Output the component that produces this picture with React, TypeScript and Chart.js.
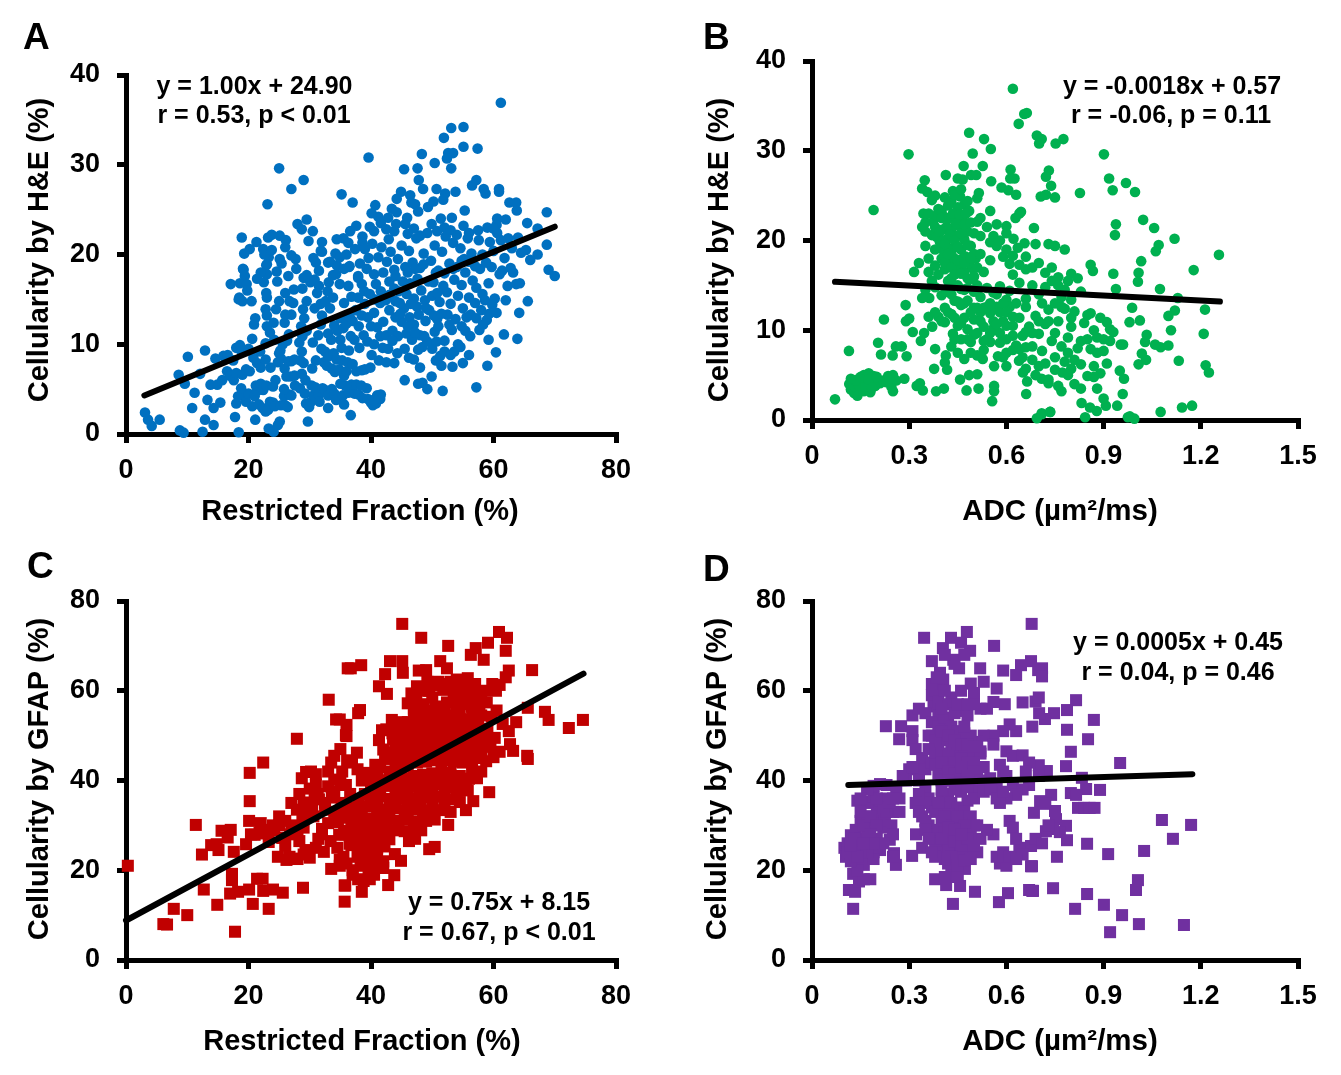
import React, { useEffect, useRef } from "react";
import { Chart, registerables } from "chart.js";

Chart.register(...registerables);

type P = [number, number];

const fitA: P[] = [[3, 4.3], [70, 23.1]];
const fitB: P[] = [[0.071, 15.4], [1.259, 13.2]];
const fitC: P[] = [[0, 8.8], [74.7, 63.8]];
const fitD: P[] = [[0.112, 39], [1.174, 41.4]];

const pointsA: P[] = [
[61.2,36.9],[53.1,34.1],[55.1,34.2],[51.9,33],[55.1,32],[57.4,31.8],[53.4,31.3],[52.6,31.3],[52.4,30.7],[48.3,31.2],[39.6,30.8],[50.4,30.2],[47.6,29.6],[45.4,29.5],[53.1,29.6],[47.8,28.3],[48.5,27.3],[57.2,28.3],[56.5,27.7],[58.4,27.3],[58.7,26.8],[60.9,27.3],[60.9,27],[50.7,27.3],[52.1,26.8],[53.8,27],[44.9,27],[35.2,26.7],[37,25.8],[51.8,26.1],[50.2,25.9],[49.3,25.3],[44.2,26.2],[46.4,26.6],[46.6,25.8],[47.2,25.6],[47.7,24.8],[62.6,25.8],[63.7,25.8],[63.8,24.9],[68.7,24.7],[65.5,23.5],[67.2,22.9],[68.7,21.1],[67.2,20],[69,18.3],[70,17.6],[55.3,24.9],[60.6,24],[62,23.9],[60.5,23.3],[55.1,23.2],[53.2,24.1],[51.4,24],[40.7,25.5],[40.1,24.6],[41.2,24.2],[41.6,23.5],[42.8,24.1],[43.4,25.1],[44.2,24.7],[44.1,23.4],[45.9,24.1],[45.6,23.4],[37.6,23.2],[36.6,22.6],[35.5,21.8],[34.4,21.7],[36.3,21.3],[38.6,22],[38.6,21.3],[37.4,20.6],[39,20.6],[32,21.4],[32,20.3],[34.2,20.1],[33.3,19.2],[34.4,18.8],[36.4,18.6],[33.8,17.7],[37.9,17.4],
[25,29.6],[29,28.3],[27,27.3],[23.1,25.6],[29.5,23.9],[28,23.4],[28.7,22.8],[30.5,22.6],[29.8,21.5],[18.9,21.9],[23.2,21.9],[23.8,22.2],[25.1,22.1],[26.1,21.6],[21.3,21.4],[22.4,20.6],[20.2,20.6],[19.3,20.1],[26,20.8],[23.3,19.7],[25.1,19.5],[27,19.9],[27.7,19.5],[31,19.1],[31.8,20.4],[33,19.1],[25.4,19],[22.9,18.8],[19.2,18.3],
[3.1,2.4],[3.6,1.6],[4.2,0.9],[5.5,1.6],[8.8,0.4],[9.4,0.15],[12.5,0.25],[18.4,0.2],[23.3,0.6],[24.1,0.25],[25.1,1.4],[24.8,1],[29.7,1.4],[36.7,2.1],[21.1,1.6],[17.8,1.9],[12.9,1.6],[14.3,1],[10.8,2.9],[11.2,4.6],[13.3,3.8],[14.3,2.9],[15.4,3.5],[8.6,6.6],[9.6,5.6],[10.1,8.6],[12.9,9.3],[14.6,8.4],[15.9,8.7],[12.1,6.7],[13.8,5.5],[14.9,5.5],[15.7,6],
[19.1,18.4],[19.4,17.6],[17.1,16.7],[18.6,16.8],[19.7,16.7],[22.5,16.9],[23,18.9],[23,17.8],[24.7,17],[29,17.4],[29.5,17.7],[30.1,16.9],[31.5,16.5],[32.9,15.9],[31.2,15.7],[34.3,17.8],[34.9,16.7],[36.5,18.7],[37.9,17.6],[39.3,18.4],[40.5,17.8],[36.3,16.5],[38.5,16.7],[40.8,16.7],[18.5,15.2],[19,14.8],[20.5,14.8],[22.9,15.7],[23,15.2],[26.7,14.8],[27.3,14.6],[29.5,14.8],[22.8,13.9],[23,13.2],[28.9,13.9],[29.1,12.9],[21.1,12.9],[20.9,12.2],[24.1,12.4],[25.9,12.4],[23.5,11.3],[28.6,12],[29.5,11.5],[20.6,10.6],[26.6,11.1],[22.8,10.1],[18,9.6],[18.6,9.9],[18.9,9.2],
[18,3.4],[18.3,4.2],[18.9,4.4],[19.6,3.6],[20,4.5],[20.6,3.1],[21,4.2],[21.4,4.8],[21.7,3.3],[22.3,2.9],[22.8,2.5],[23.2,2.7],[23.5,3.6],[24,3.5],[24.3,3.1],[25.3,3.2],[25.8,4.2],[26,3.2],[26.4,3],[26.7,4.4],[27,4.3],[25.8,5],[28.4,5.1],[29.2,4.5],[29.4,3.4],[29.9,3],[30.2,3.6],[30.6,4.3],[30.3,5.4],[29.3,6],[30.9,5.2],[31.5,4.4],[31.6,3.6],[32.1,5.1],[32.5,4.9],[33,4.3],[33,2.9],[33.6,5],[34,4.5],[34.3,3.8],[35.4,4.3],[35.6,3.3],[35.8,5.4],[36.3,4.6],[37.3,4.5],[38,4.4],[38.6,4],[39.3,5.1],[39.5,3.9],[40,3.5],[40.3,3.2],[40.8,3.4],[41,4.3],[41.5,3.9],[41.6,4.4],[40.5,3.8],
[16.5,7],[17,6.5],[17.6,6],[18,6.8],[18.8,5.1],[19,6.6],[19.6,7.2],[20.2,7],[20.8,8.5],[21.4,7.9],[22,7.4],[21.2,5.4],[22,5.6],[22.4,4.9],[22.9,5.4],[23.6,7.4],[24.8,8],[25,9],[25.3,8.4],[25.6,10],[25.9,7.3],[26.2,6.4],[26.8,6.4],[26.5,8.1],[27,8.1],[27.5,8.3],[28.5,8.2],[28.7,9.2],[29,7.9],[28.3,10.2],[28.8,10.9],[26.3,10.4],[25.2,9.3],[24.2,10.5],
[31.9,9.5],[32.5,9.2],[32.3,8],[32.8,7.6],[33,8.6],[33.6,7.3],[33.9,9],[34.1,6.9],[34.4,8.3],[34.8,7.2],[35,10.5],[35.2,9.6],[35.3,8.2],[35.6,6.5],[36,7],[36.2,8],[36.4,9.3],[36.7,10.9],[37,7.8],[37.3,10.5],[37.6,7],[38.1,9.6],[38.5,7.1],[38.8,11],[39,7.2],[39.4,10.3],[39.9,7.4],[40.1,8.8],[40.5,10],[41.3,8.2],[41.9,9.6],[42.5,8],[43.8,7.9],[41.5,10.9],[33,11.2],[33.5,10.5],[34,12.1],[34.5,11.5],[35,12.9],[35.5,11.8],[36,12.3],[36.5,13.1],[37,12.6],[37.5,13.8],[38,12],[38.5,13.2],[39,14.5],[39.5,13],[40,12],[40.5,13.5],[41,11.9],[41.5,14.6],[42,12.5],[42.5,11],[43,13.8],[43.5,11.5],[44,14.8],[44.4,10.9],[45,12.5],[45.4,14],[45.8,11.2],[46.3,13],[46.7,10.5],[47,12.2],[47.5,14.2],[48,11],[48.4,9.7],[48.9,12.6],[49.2,10.3],[49.5,13.8],[50,9.5],[50.4,11.4],[50.8,12.8],[51.3,8.7],[52,10.4],[52.5,13.3],[53.2,11.6],[53.6,9.2],[54.2,10],[54.6,9.7],[55,14],[55.6,13],[56.3,13.3],[57.2,12.9],[57.7,11.6],[58.3,12.2],[58.9,12.7],[59.3,13.4],[59.2,10.5],[61.7,11.1],[63.9,10.6],[60.4,9.1],[59,7.6],[51.5,7.6],[53.3,7.5],[49.9,6.4],[48.4,5.7],[47.7,5.6],[49.2,5],[45.5,6],[51.7,4.8],[57.2,5.2],
[43,15.5],[43.8,16.2],[44.5,15.9],[45.2,17],[45.8,15.6],[46.4,16.8],[47,15.1],[47.6,17.3],[48.2,16],[48.8,14.9],[49.4,17],[50,15.4],[50.6,18],[51.2,14.7],[51.8,16.5],[52.4,15.8],[53,14.5],[53.6,17.2],[54.2,15.4],[54.8,16.6],[55.4,18],[56,15.2],[56.6,17.1],[57.2,16.3],[57.8,18.4],[58.2,15.6],[58.6,14.9],[59.2,16.8],[59.7,18.6],[60.2,15.1],[61,17.8],[61.4,18.2],[62.3,16.5],[63.7,16.7],[63.2,18],[65.6,14.8],[64.3,16.8],[62.8,18.5],
[42,18],[42.6,19.2],[43.2,20.3],[43.8,18.3],[44.4,19.5],[45,21],[45.6,18.6],[46.2,20.4],[46.8,19.1],[47.4,21.8],[48,18.5],[48.6,20.1],[49.2,22.4],[49.8,19.3],[50.4,21],[51,18.2],[51.6,20.3],[52.2,22],[52.8,19],[53.4,21.3],[54,18.6],[54.6,20.7],[55.2,19.5],[55.8,21.8],[56.4,20.1],[57,18.7],[57.6,21.6],[58.2,20],[58.8,19.1],[59.4,21.4],[60,20.4],[60.6,22.4],[61.2,21.6],[61.8,19.6],[62.4,21.8],[63,20.7],[64,21.9],[64.5,20.2],[65.3,20.5],[66,19.4],[46,22.3],[47,22.9],[48,22.1],[49.9,23.4],[50.8,22.6],[52,23],[53,22.7],[54,22.2],[56,22.4],[57.5,22.7],[59,23],[60,22.9]
];

const moreA: P[] = [
[18.4,15],[19.8,16],[21.4,17.3],[22,18],[22.6,20],[23.8,20.5],[24.6,18.1],[26.5,17.6],[27.8,18.4],[28.8,16.2],[30.8,17.2],[31.5,18.2],[30.6,19.6],[33.1,16.9],[34.9,19.7],[35.6,18.4],[36,20],[38.2,19],[39.6,19.6],[40.2,21.2],[41.2,19.7],[41.7,20.8],[42.9,21.7],[43.8,22.6],[40.5,22.6],[39.8,23.1],[42.5,22.8],
[30.8,14],[31.8,14.5],[32.6,14.8],[33.3,14],[33.8,15.2],[35.6,14.6],[36.8,15.3],[37.9,15.2],[38.9,15.9],[39.8,15.6],[40.6,15],[41.6,15.9],[42.4,14.9],[43,17],[44,17.6],[44.7,14.6],[46,18],[47.2,18.4],[48.6,18.9],[50.2,16.9],[50.8,15.7],[52,17.9],[53.4,18.4],[54.8,19.3],[56,19.2],[44,13],[44.8,13.4],[46.5,14.5],[47.8,13.3],[49,14],[50.3,13.2],[51.5,13.4],[52.8,12.2],[53.8,12.8],[54.8,12],[46,12],[47.2,11.3],[48.7,10.9],[50.7,10.3],[51,12],[55.4,11.5],[56.2,10.9],[57,14.6],[58,13.8],[59.8,14.4],[60.5,13.5],[42.8,9.5],[43.5,10.4],[44.3,9],[45.5,9.5],[46.2,8.5],[47,8.3],[47.7,9.4],[30.4,7.3],[31,8.2],[30.5,10.2],[31.4,11],[31.8,12.2],[32,13.2],[23,12],[24.5,13.9],[25,14.8],[26,15.7],[27.4,16.1],[27,13.3],[26,13.3],[24.4,6],[24,5.3],[27.5,6.5],[28.7,6.7],[27.6,5.4],[22.8,8.3],[21.9,9.2],[20,9.5],[17.5,8.2],[16.6,8.8],[35,5.6],[36.8,5.5],[37.6,5.5],[38.4,5.4],[62,14.9],[64.2,13.5],[48,7.4],[50.6,8.2],[52,9.2],[53,8.8],[55,7.9],[56,8.8]
];

const pointsB: P[] = [
[0.62,36.9],[0.663,34.2],[0.655,34.1],[0.638,33],[0.485,32],[0.531,31.3],[0.552,30.2],[0.496,29.7],[0.298,29.6],[0.694,31.7],[0.709,31.3],[0.701,30.8],[0.752,30.8],[0.776,31.3],[0.468,28.3],[0.527,28.3],[0.613,27.9],[0.731,27.8],[0.722,27.1],[0.738,26.1],[0.706,24.9],[0.722,25.1],[0.75,24.8],[0.413,27.3],[0.491,27.3],[0.507,27.3],[0.465,26.8],[0.45,26.9],[0.348,26.7],[0.34,25.8],[0.356,25.4],[0.435,25.5],[0.553,26.6],[0.585,25.9],[0.612,26.9],[0.606,25.6],[0.63,25.1],[0.625,26.9],[0.51,24.7],[0.515,25.3],[0.55,23.3],[0.4,23.3],[0.19,23.4],[0.344,23],[0.374,22.1],[0.384,22.8],[0.47,24],[0.48,24.4],[0.457,24.9],[0.43,24.4],[0.628,22.5],[0.645,23.2],[0.64,23],[0.57,21.8],[0.6,20.8],[0.622,20.2],[0.635,19.2],[0.656,19.7],[0.685,21.4],[0.69,19.6],[0.73,19.6],[0.75,19.4],[0.78,19],
[0.901,29.6],[0.917,26.9],[0.969,26.4],[0.928,25.6],[0.997,25.4],[0.827,25.3],[1.022,22.3],[0.938,21.8],[0.935,20.6],[1.056,21.4],[1.119,20.2],[1.07,19.5],[1.061,18.8],[1.256,18.4],[1.016,17.7],[1.178,16.7],[0.86,17.3],[0.867,16.6],[0.93,16.3],[1.008,16.4],[1.006,15.4],[0.938,14.6],[1.074,14.6],[1.129,13.6],[1.213,12.3],[0.988,12.5],[1.12,12.2],[1.1,11.6],[1.012,11.1],[1.108,10],[1.209,9.6],[1.033,9.5],[1.028,8.7],[1.059,8.4],[1.076,8.1],[1.1,8.3],[0.953,8.4],[0.96,8.4],[1.018,7.4],[1.031,6.7],[1.008,6.2],[1.132,6.6],[1.215,6.1],[1.225,5.3],[0.963,4.6],[0.959,2.9],[0.942,1.6],[0.907,1.6],[1.142,1.4],[1.173,1.6],[1.076,0.9],[0.981,0.4],[0.995,0.15],[0.975,0.3],[0.843,0.3],[0.832,1.9],[0.858,1.4],[0.879,1],[0.735,0.9],[0.709,0.65],
[0.071,2.3],[0.114,7.7],[0.204,8.6],[0.213,7.3],[0.222,11.2],[0.249,7.2],[0.259,8.2],[0.277,8.2],[0.292,7.1],[0.289,12.8],[0.315,16.5],[0.29,11],[0.3,11.3],[0.311,9.8],[0.336,8.8],[0.346,9.7],[0.362,13.6],[0.371,10.4],[0.38,7.9],[0.413,7.2],[0.41,6.4],[0.417,5.6],[0.377,5.7],[0.333,4.1],[0.323,3.8],[0.342,3.3],[0.383,3.2],[0.407,3.5],[0.457,4.5],[0.477,3.3],[0.485,5],[0.51,5.1],[0.514,3.5],[0.562,3.8],[0.562,3.2],[0.556,2.1],[0.562,6],[0.574,7.1],[0.527,6.8],[0.639,6.6],[0.651,5.3],[0.664,4.3],[0.661,2.9],[0.709,4.6],[0.73,4.5],[0.773,5.3],[0.694,0.2],[0.709,0.75],[0.735,0.9],
[0.115,4],[0.12,3.4],[0.125,4.1],[0.13,3],[0.135,3.6],[0.14,4.5],[0.14,2.7],[0.148,3.3],[0.15,4.8],[0.155,4],[0.16,3.2],[0.16,5],[0.167,4.3],[0.17,3.5],[0.175,5.2],[0.18,4.1],[0.18,3.1],[0.19,4.9],[0.195,3.8],[0.21,4.1],[0.22,4.4],[0.235,4.9],[0.245,3.7],[0.25,3.2],[0.26,4.4],[0.285,4.6],[0.25,5],
[0.35,22],[0.37,20.6],[0.38,21.5],[0.39,23.5],[0.395,19.8],[0.4,21.2],[0.405,18.9],[0.41,22.6],[0.415,20.1],[0.42,23.9],[0.425,17.8],[0.43,21.3],[0.435,19.2],[0.44,22.8],[0.44,18],[0.445,20.5],[0.45,23.7],[0.45,17],[0.455,21.6],[0.46,19],[0.465,22.5],[0.47,20.1],[0.47,16.5],[0.475,18.2],[0.48,21],[0.485,23.3],[0.49,19.4],[0.495,16.9],[0.5,20.8],[0.505,18],[0.51,22.1],[0.35,19.4],[0.33,17.5],[0.36,18],[0.38,17.2],[0.39,16.2],[0.41,16.8],[0.43,15.8],[0.45,15],[0.47,14.5],[0.49,15.7],[0.51,15],[0.53,16.5],[0.55,17.8],[0.57,19.4],[0.59,18.2],[0.61,17.4],[0.55,19.8],[0.52,20.5],[0.6,21.6],[0.38,14.8],[0.4,13.9],[0.415,14.3],[0.44,13.3],[0.46,12.8],[0.48,13.3],[0.5,12.5],[0.52,13.7],[0.54,14.7],[0.56,14.2],[0.58,14.9],[0.6,13.4],[0.62,16.2],[0.64,15.3],[0.66,16.8],[0.68,15],[0.7,14],[0.72,16.4],[0.74,15.5],[0.76,15.9],[0.78,14.5],[0.8,16.3],[0.8,13.4],[0.83,14.3],
[0.39,11.5],[0.41,10.9],[0.43,11.8],[0.435,9.6],[0.45,10.5],[0.46,9],[0.47,11.4],[0.48,10.1],[0.49,8.7],[0.5,11.2],[0.51,9.7],[0.52,12],[0.53,10.4],[0.54,9],[0.55,11.9],[0.56,10.2],[0.57,12.6],[0.58,9.7],[0.59,11],[0.6,9],[0.61,12.6],[0.62,10.5],[0.63,8.3],[0.64,11.4],[0.65,9.4],[0.66,12.6],[0.67,10.4],[0.68,8.2],[0.69,11.6],[0.7,9.6],[0.71,7.7],[0.72,10.7],[0.73,12.3],[0.74,8.8],[0.75,7],[0.76,11],[0.77,12.6],[0.78,6.5],[0.79,9.2],[0.8,10.4],[0.81,12.1],[0.82,8],[0.83,6.2],[0.84,10.8],[0.85,11.7],[0.86,7.9],[0.87,6],[0.88,9.2],[0.89,5.2],[0.9,7.7],[0.91,6.3],[0.92,8.8],[0.85,4.9],[0.83,3.5],[0.81,4],[0.79,5],[0.77,3.2],[0.75,5.6],[0.73,4.1],[0.92,10.1],[0.86,11.9],[0.8,11.4],[0.89,11.4],[0.91,10.9],[0.78,12.4],[0.75,13],[0.71,13],[0.66,13.5],
[0.43,8.2],[0.44,9],[0.45,7.5],[0.47,6.8],[0.49,7.5],[0.51,7.2],[0.53,7.8],[0.55,8.7],[0.58,8.6],[0.6,7.5],[0.62,7.8],[0.64,7.9],[0.66,8.1],[0.68,6.7],[0.7,6],[0.72,6.3],[0.66,5.7],[0.69,5],[0.98,10.9]
];

const moreB: P[] = [
[0.38,19],[0.385,20.4],[0.395,21],[0.4,22.5],[0.405,20],[0.41,19.6],[0.415,21.5],[0.42,22.4],[0.425,20.7],[0.43,18.5],[0.435,23],[0.44,20],[0.445,21.9],[0.45,19.3],[0.455,22.9],[0.46,20.8],[0.465,18],[0.47,21.8],[0.475,23],[0.48,19.5],[0.485,17.5],[0.49,22],[0.5,18.5],[0.4,18],[0.41,17.5],[0.42,18.5],[0.43,17],[0.44,16.2],[0.45,17.8],[0.46,16.3],[0.47,17.5],[0.48,15.8],[0.49,18],[0.5,16],[0.51,17],[0.52,18.5],[0.42,15.5],[0.43,14],[0.44,15],[0.45,13.2],[0.46,14.6],[0.47,13],[0.48,14.7],[0.49,12],[0.5,14.3],[0.51,12.5],[0.52,11],[0.53,12.5],[0.54,12.6],[0.55,13],[0.56,11],[0.57,14],[0.58,12],[0.59,13],[0.6,12],[0.61,14.4],[0.62,11.5],[0.63,13],[0.42,12],[0.44,11.4],[0.41,12.5],[0.4,11],[0.38,12],[0.36,11.5],[0.37,15.5],[0.36,16.5],[0.35,14.5],[0.34,13.6],[0.35,21],[0.36,23],[0.37,24.5],[0.34,21.5],[0.38,25],[0.41,24.8],[0.44,25.1],[0.46,25.7],[0.52,22.5],[0.54,21.5],[0.56,20.5],[0.58,20],[0.6,19],[0.62,18.3],[0.64,17.3],[0.66,18.2],[0.68,17],[0.7,17.5],[0.72,14.8],[0.74,17],[0.76,15],[0.77,13.7],[0.79,15.5],[0.82,15.8],[0.73,11],[0.75,9.7],[0.77,8.2],[0.79,7.5],[0.81,6.7],[0.83,8.8],[0.85,9],[0.87,10],[0.88,7.5],[0.9,9],[0.93,9.8],[0.68,9.7],[0.7,11],[0.66,9.8],[0.65,7],[0.6,6],[0.59,7],[0.5,9.5],[0.48,9],[0.46,10.8],[0.53,8.8],[0.55,9.7],[0.57,10.7],[0.6,10.5],[0.62,9.4],[0.95,5.5],[0.87,4.8],[0.8,5.7],[0.88,3.5],[0.9,2.4],[0.76,3.8],[0.13,3.8],[0.145,3.9],[0.155,4.5],[0.165,3.7],[0.175,4.5],[0.185,3.6],[0.135,4.4],[0.12,4.6],[0.2,4.8],[0.23,4.2],[0.24,4.6]
];

const pointsC: P[] = [
[0.3,21],[11.4,30.1],[12.4,23.5],[13.9,25.6],[14.8,25.8],[15.1,24.5],[15.6,28.8],[17.1,29],[16.6,27.3],[17.6,24.1],[12.7,15.7],[7.8,11.4],[10,10],[6.1,8],[6.7,7.9],[14.9,12.3],[17.8,6.3],[20.7,12.5],[23.3,11.4],[17,14.8],[18.3,15.2],[20.1,15.7],[17.3,19.2],[17.3,17.8],[21.4,18.1],[22.3,18.1],[22.4,15.4],[24,15.7],[25.6,15],[28.9,16.1],[20.2,41.7],[22.4,44],[20.2,35.4],[20.1,31],[27.9,49.3],[33.1,58],[34.3,53.6],[34.9,53.6],[35.9,50.1],[36.2,65],[35.7,13],[35.7,16.6],[33.5,20.3],[34.9,22.3],[34.9,21],
[19.6,25.8],[20.4,28],[21,27.9],[21.8,28.4],[22.6,28.2],[23.3,26.3],[24.2,28.9],[24.8,23],[25.5,27.2],[26,25.5],[26.2,22.3],[26.7,23],[26.8,28],[27.3,22.6],[27.6,30],[27.9,33.5],[28.3,26.5],[28.8,31],[29,35.1],[29.3,24.5],[30,38.2],[30.2,42],[30.4,34.1],[30.6,32],[31,41.4],[31.3,37],[31.4,27],[32,29.2],[32.3,24.1],[32.5,33.5],[33,30.5],[33,42],[33,38.7],[33.6,36.2],[34,40.2],[34.5,25],[34.6,30.7],[34.8,27.9],[35,33],[35.2,35],[35.3,42],[35.6,28.8],[35.9,39],[36.1,44.5],[36.3,31.7],[36.5,25.9],[36.6,37],
[45.1,74.9],[48.2,71.8],[52.6,70],[60.9,73.1],[62.2,71.8],[62,68.9],[59.1,70.7],[57.1,69.5],[56.3,68],[58.4,66.9],[66.3,64.6],[62.5,64.5],[62,63],[59.8,61.5],[36.7,65],[38.4,65.7],[43.1,66.6],[45.1,66.6],[42.3,63.7],[45.2,64],[41.3,61],[42.6,59.3],[51.3,66.6],[49,64.6],[47.8,64.5],[52.4,65],[55.8,62.8],[74.6,53.5],[72.3,51.7],[69,53.5],[68.4,55.3],[65.6,56.2],[63.7,53],[62.5,51],[62.7,48.1],[63.2,46.6],[65.5,45.5],[65.6,44.8],[59.3,37.4],[58.8,44.3],[56.7,35.4],[54.5,35.2],[55.5,33.4],[52.6,30.1],[47.2,27],[50.4,25.2],[49.5,24.7],[43.9,23.6],[44.9,22.1],[43.8,18.9],[42.8,16.7],[38.5,15.2],[37.9,18],[39.8,18],[35.8,16.6],[38.2,55.7],[37.9,55],[36,52.4],[36,49.9],[41.3,49],[41.8,51.2],[37.7,46.2],[42.3,44.8],[40.7,43.5],[39.3,41.7],
[61,61.3],[60.4,60],[58.5,60],[57.5,59.4],[56.2,58],[55,60.8],[53.6,60],[53,62],[51.8,60.2],[50.5,61.2],[49.2,62],[48.4,60],[47.4,59],[46.6,59.4],[46,57.2],[47.2,56.5],[48.6,57],[50,58.5],[51,55.5],[52.4,57.4],[53.9,56],[54.9,58.4],[56.5,55],[57.7,56.6],[58.9,57.4],[59.7,54.2],[60.5,55.6],[61.5,52.6],[60.2,49.5],[59,51.5],[57.5,53],[56,51.4],[54.5,53.7],[53,52.8],[51.5,53.2],[50,52.5],[48.5,54],[47,54.5],[46,53],[45.3,51.4],[44.4,52.4],[43.4,53.5],[42.5,51.4],[43.6,49.1],[44.6,48],[46,49.2],[47.5,49.4],[49,50.1],[50.5,49],[52,50],[53.5,50.8],[55,49.5],[56.5,48.2],[58,48.5],[59.5,47.5],[61,46.4],[60,45.2],[58,46.2],[56.5,45.6],[55,46.9],[53.4,47],[52,47],[50.5,46.8],[49,47],[47.5,46.6],[46,46.2],[44.6,45.2],[43.4,46.3],[42,46.9],
[43,42],[44.5,42.6],[46,43.6],[47.5,44],[49,44.2],[50.5,44.5],[52,44.5],[53.5,44.2],[55,44],[56.5,43],[58,42],[44,40],[45.5,40.5],[47,41],[48.5,41.3],[50,41.6],[51.5,42],[53,41.7],[54.5,41],[56,40.4],[57.3,40.5],[41,38.5],[42.5,38.8],[44,38],[45.5,38.4],[47,38.6],[48.5,38.7],[50,39],[51.5,39.2],[53,38.5],[54.5,38],[55.8,37.8],[40,36.2],[41.5,36.5],[43,35.9],[44.5,36],[46,35.8],[47.5,36],[49,36.3],[50.5,36.4],[52,36],[53.3,35.8],[38,34.5],[39.5,34.2],[41,34],[42.5,33.5],[44,33.8],[45.5,33.4],[47,33.5],[48.5,33.2],[50,33.6],[51.5,33.4],[37,32],[38.5,32.2],[40,31.5],[41.5,31.8],[43,31.5],[44.5,31],[46,31.3],[47.5,30.8],[49,31],[50.4,31.3],[36.8,30],[38.2,29.8],[39.7,29.4],[41.1,29.5],[42.6,29.2],[44,28.9],[45.5,28.7],[47,29],[48.2,28.9],[35.8,28],[37.2,27.5],[38.7,27.3],[40.1,27.2],[41.6,27.4],[43,26.9],[46.2,26.5],[36.8,25.6],[38.2,25.2],[39.7,25],[41,25],[42.2,25.3],[37.8,23],[39.2,23],[40.5,22.8],[38.3,21],[39.8,20.6],[40.9,21],[39.6,19.2]
];

const moreC: P[] = [
[43,40],[45,41.5],[46.5,40],[48,39.5],[49.5,40],[51,41],[52.5,40],[54,39.5],[55.5,39],[44,44],[45.5,44.5],[47,45],[48.5,45.3],[50,45.8],[51.5,46],[53,46],[54.5,45],[56,44.8],[57.5,45],[44,47],[45.5,47.5],[47,48],[48.5,48.5],[50,47.8],[51.5,48.4],[53,48.4],[54.5,48.5],[56,47],[57.5,47.5],[43.5,50.5],[45,50],[46.5,50.5],[48,50.5],[49.5,51],[51,51],[52.5,51.5],[54,51.5],[55.5,52],[57,50.5],[58.5,50],[45,53],[46.8,52.5],[48.3,52.5],[50,54],[51.5,54.5],[53,54.5],[54.5,55],[56,53.5],[58,54.5],[47,56],[48.8,55.5],[50.5,56.5],[52,56],[53.5,58],[55,57],[56.5,56.5],[58,58],[47.5,61],[49.5,60],[51,62],[52.5,61.5],[54,62.5],[56,60.5],[57,61.5],[41,41],[42,40],[40,39.5],[41.5,43],[40.5,36],[39,37],[38,35.5],[37,34],[46,34],[48,34.5],[50,35],[52,34],[53,33],[46,37],[48,37],[50,37.5],[52,37.5],[54,36.7],[35,40],[34,37.5],[32.5,35],[31.5,35.8],[31,39],[29.5,33],[29,29.5],[28,28.5],[27,29.5],[26,31],[25,30],[24,30],[23,29],[22,30.5],[25,32],[27,35],[28.3,37],[28.7,40.5],[29.4,41.9],[30.8,36],[33.5,44],[34,45.5],[35,47],[36.9,44],[37.8,42.5],[38.5,40],[34,33],[36,33.5],[32,28],[33.4,26.5],[31,25],[30,22.8],[29,23.5],[28,22.5],[41,23],[42,22],[37,20],[36,21.5],[35.5,23],[37,19],[38.8,17.6],[40.5,19],[42,20.5]
];

const pointsD: P[] = [
[0.678,74.9],[0.346,71.8],[0.478,73.1],[0.429,71.8],[0.562,70],[0.46,70.7],[0.404,69.5],[0.488,68.9],[0.37,66.6],[0.436,66.9],[0.59,64.5],[0.645,65.7],[0.676,66.6],[0.71,65],[0.698,64.6],[0.63,63.5],[0.519,65],[0.454,65],[0.44,66],[0.47,68],[0.41,68],[0.395,64],[0.405,62.5],[0.39,60.5],[0.53,62],[0.49,61.6],[0.57,60.5],[0.5,59.5],[0.37,59],[0.375,56.5],[0.43,58.5],[0.595,57],[0.65,57.4],[0.69,57.6],[0.7,58.5],[0.46,55.5],[0.48,54.5],[0.52,56],[0.54,56],[0.56,57.5],[0.39,54.5],[0.42,53.5],
[0.228,52.1],[0.275,52.1],[0.269,49.2],[0.321,28],[0.309,23.2],[0.259,21.2],[0.253,23.8],[0.127,11.4],[0.114,15.6],[0.133,15.2],[0.127,19.2],[0.435,12.5],[0.577,12.9],[0.605,14.9],[0.503,15.2],[0.67,15.6],[0.68,15.4],[0.744,16],[0.756,23],[0.676,20.9],[0.812,11.4],[0.38,18],[0.414,16.7],[0.457,16.5],[0.472,20.3],
[0.951,43.9],[1.08,31.2],[1.17,30.1],[1.114,27],[1.025,24.3],[0.914,23.6],[0.849,25.9],[1.006,17.8],[1,15.6],[0.849,14.7],[0.901,12.3],[0.957,10],[1.009,8],[0.92,6.2],[1.148,7.8],[0.87,53.5],[0.815,57.9],[0.787,55.7],[0.747,55],[0.719,53.7],[0.701,55],[0.787,51.3],[0.852,49.2],[0.799,46.4],[0.784,43.2],[0.725,42.1],[0.833,40.6],[0.846,38.1],[0.889,37.9],[0.799,37.2],[0.815,36.8],[0.738,36.8],[0.704,35.4],[0.685,32.8],[0.821,33.9],[0.84,33.9],[0.857,33.9],[0.872,33.9],[0.753,31.4],[0.784,29.9],[0.722,28.7],[0.765,28.5],[0.745,29.2],[0.787,26.7],[0.676,25.4],[0.679,20.9],[0.682,15.4],[0.71,63.2],[0.72,42],[0.7,43.4],
[0.68,52],[0.63,51],[0.61,52.5],[0.59,51],[0.56,50],[0.53,50],[0.51,48.6],[0.52,46.5],[0.56,48],[0.6,46.5],[0.62,45.5],[0.65,45.6],[0.67,44],[0.58,43.5],[0.59,42],[0.53,43],[0.55,40.5],[0.57,38.5],[0.6,41],[0.62,39],[0.66,42],[0.7,41],[0.67,39],[0.65,38],[0.63,36.8],[0.6,36],[0.58,35],[0.61,31],[0.62,29.5],[0.64,25],[0.63,27],[0.65,23.5],[0.69,27],[0.71,26],[0.73,30],[0.75,33.2],[0.72,34.8],[0.56,28],[0.54,29],[0.58,21.5],[0.6,21],[0.57,23],[0.59,24],[0.61,23],[0.63,22.5],
[0.1,25],[0.11,26],[0.105,23],[0.12,27.8],[0.125,24],[0.13,22],[0.135,29],[0.14,25.5],[0.15,27],[0.15,31],[0.155,23],[0.16,21.2],[0.165,25],[0.17,28.5],[0.17,32],[0.18,35],[0.185,26],[0.19,31],[0.19,22.5],[0.2,33],[0.2,27],[0.21,35.5],[0.21,24.5],[0.22,29.5],[0.225,31],[0.23,36],[0.24,26.8],[0.245,30],[0.25,28],[0.25,23],[0.14,35.5],[0.17,35.3],[0.19,36.5],[0.23,39],[0.26,38],[0.27,36],[0.21,39.2],[0.19,38.8],[0.29,40],[0.33,41.5],[0.25,33],[0.27,33],[0.145,17.5],[0.16,18],[0.18,18],[0.19,24],[0.14,20],[0.12,22],[0.13,27],
[0.31,54.5],[0.33,56],[0.35,55],[0.37,53],[0.39,52],[0.41,54],[0.43,52],[0.45,51],[0.47,50.5],[0.49,50],[0.31,51],[0.31,49],[0.32,47],[0.34,45],[0.37,50],[0.39,48],[0.41,49],[0.43,47],[0.45,46],[0.47,47],[0.49,45.5],[0.52,46],[0.3,42.5],[0.33,43],[0.35,42.5],[0.37,44],[0.39,41.5],[0.41,43],[0.43,44],[0.45,42],[0.47,41],[0.49,43.5],[0.51,41],[0.33,40],[0.35,38.5],[0.36,36],[0.37,34],[0.35,35],[0.34,32],[0.36,30],[0.38,28],[0.38,33],[0.4,36],[0.42,37],[0.44,39],[0.46,37.5],[0.48,35.5],[0.5,38],[0.41,34],[0.43,35],[0.45,34],[0.47,33],[0.49,32],[0.4,31],[0.42,32.5],[0.44,31],[0.46,30.5],[0.48,29],[0.5,30],[0.52,27],[0.39,29],[0.41,28.5],[0.43,28],[0.45,27.5],[0.47,27],[0.49,26],[0.41,26],[0.43,25.5],[0.45,24.5],[0.47,24],[0.49,24.5],[0.51,24],[0.42,23.5],[0.44,22.5],[0.46,23],[0.43,20.5],[0.44,19],[0.45,18.5],[0.41,18.5]
];

const moreD: P[] = [
[0.38,60],[0.39,57.5],[0.37,61.5],[0.385,63],[0.41,60],[0.42,57],[0.44,55],[0.45,57],[0.48,57],[0.5,57],[0.46,60],[0.47,52],[0.4,56],[0.36,50],[0.38,49],[0.4,51],[0.42,50],[0.44,49],[0.46,48],[0.48,48],[0.5,47.5],[0.36,47],[0.38,46],[0.4,46],[0.42,45.5],[0.44,44],[0.46,45],[0.48,44],[0.5,44],[0.38,43.5],[0.4,44],[0.42,42],[0.44,41.5],[0.46,43],[0.48,41],[0.5,42],[0.4,40],[0.42,40],[0.44,38],[0.46,39.5],[0.48,38.5],[0.5,36],[0.52,40],[0.53,37.5],[0.55,38],[0.57,36],[0.59,37.5],[0.4,38],[0.39,35],[0.41,32],[0.43,30],[0.45,32],[0.47,30],[0.49,28],[0.51,30],[0.38,26],[0.4,24],[0.42,25],[0.44,26.5],[0.46,25.5],[0.48,27],[0.5,25.5],[0.4,27],[0.42,29.5],[0.44,29],[0.46,28],[0.42,21.5],[0.43,23],[0.45,21],[0.47,22.2],[0.49,22.5],[0.41,22.5],[0.38,23],[0.28,41],[0.31,43],[0.33,37],[0.32,35],[0.33,33],[0.35,31],[0.35,29],[0.36,27],[0.34,25],[0.37,24],[0.15,33],[0.16,30],[0.18,32],[0.2,30],[0.18,28],[0.2,25],[0.22,26],[0.17,24],[0.15,24],[0.19,26],[0.13,24],[0.11,24],[0.14,23],[0.16,26],[0.12,25.5],[0.23,33],[0.22,34],[0.24,35],[0.25,36],[0.2,36],[0.17,38],[0.15,36]
];

const xTitleAB = "Restricted Fraction (%)";
const xTitleCD = "ADC (\u00b5m\u00b2/ms)";
const yTitleTop = "Cellularity by H&E (%)";
const yTitleBottom = "Cellularity by GFAP (%)";
const FONT = '"Liberation Sans", Arial, sans-serif';

type Label = { t: string; x: number; y: number; size: number; rot?: boolean; left?: boolean };

type Panel = {
  box: [number, number, number, number];
  plot: [number, number, number, number];
  xMax: number; xStep: number; xFixed: number;
  yMax: number; yStep: number;
  points: P[]; fit: P[]; color: string; square: boolean;
  labels: Label[];
};

const panels: Panel[] = [
  {
    box: [0, 0, 670, 535], plot: [126, 616, 75, 434],
    xMax: 80, xStep: 20, xFixed: 0, yMax: 40, yStep: 10,
    points: pointsA.concat(moreA), fit: fitA, color: "#0070C0", square: false,
    labels: [
      { t: "A", x: 23, y: 39, size: 37, left: true },
      { t: "y = 1.00x + 24.90", x: 254.5, y: 87, size: 25 },
      { t: "r = 0.53, p < 0.01", x: 254, y: 116, size: 25 },
      { t: xTitleAB, x: 360, y: 512, size: 29 },
      { t: yTitleTop, x: 40, y: 250, size: 29, rot: true },
    ],
  },
  {
    box: [670, 0, 671, 535], plot: [812, 1298, 61, 420],
    xMax: 1.5, xStep: 0.3, xFixed: 1, yMax: 40, yStep: 10,
    points: pointsB.concat(moreB), fit: fitB, color: "#00B050", square: false,
    labels: [
      { t: "B", x: 703, y: 39, size: 37, left: true },
      { t: "y = -0.0018x + 0.57", x: 1172, y: 87, size: 25 },
      { t: "r = -0.06, p = 0.11", x: 1171, y: 116, size: 25 },
      { t: xTitleCD, x: 1060, y: 512, size: 29.5 },
      { t: yTitleTop, x: 720, y: 250, size: 29, rot: true },
    ],
  },
  {
    box: [0, 535, 670, 540], plot: [126, 616, 601, 960],
    xMax: 80, xStep: 20, xFixed: 0, yMax: 80, yStep: 20,
    points: pointsC.concat(moreC), fit: fitC, color: "#C00000", square: true,
    labels: [
      { t: "C", x: 27, y: 568, size: 37, left: true },
      { t: "y = 0.75x + 8.15", x: 499, y: 903, size: 25 },
      { t: "r = 0.67, p < 0.01", x: 499, y: 933, size: 25 },
      { t: xTitleAB, x: 362, y: 1042, size: 29 },
      { t: yTitleBottom, x: 40, y: 779, size: 29, rot: true },
    ],
  },
  {
    box: [670, 535, 671, 540], plot: [812, 1298, 601, 960],
    xMax: 1.5, xStep: 0.3, xFixed: 1, yMax: 80, yStep: 20,
    points: pointsD.concat(moreD), fit: fitD, color: "#7030A0", square: true,
    labels: [
      { t: "D", x: 703, y: 571, size: 37, left: true },
      { t: "y = 0.0005x + 0.45", x: 1178, y: 643, size: 25 },
      { t: "r = 0.04, p = 0.46", x: 1178, y: 673, size: 25 },
      { t: xTitleCD, x: 1060, y: 1042, size: 29.5 },
      { t: yTitleBottom, x: 718, y: 779, size: 29, rot: true },
    ],
  },
];

function PanelChart({ panel }: { panel: Panel }) {
  const ref = useRef<HTMLCanvasElement>(null);
  useEffect(() => {
    const [bx, by, bw, bh] = panel.box;
    const [l, r, t, b] = panel.plot;
    const toXY = (p: P) => ({ x: p[0], y: p[1] });
    const textPlugin = {
      id: "panelText",
      afterDraw(chart: any) {
        const c = chart.ctx;
        c.save();
        c.fillStyle = "#000";
        panel.labels.forEach((lab) => {
          c.save();
          c.font = `bold ${lab.size}px ${FONT}`;
          c.textBaseline = "middle";
          c.textAlign = lab.left ? "left" : "center";
          c.translate(lab.x - bx, lab.y - by);
          if (lab.rot) c.rotate(-Math.PI / 2);
          c.fillText(lab.t, 0, 0);
          c.restore();
        });
        c.restore();
      },
    };
    const axis = (max: number, step: number, fixed: number, pad: number) => ({
      type: "linear" as const,
      min: 0,
      max,
      border: { display: true, color: "#000", width: 5 },
      grid: { drawOnChartArea: false, drawTicks: true, color: "#000", lineWidth: 5, tickLength: 9, tickWidth: 5, tickColor: "#000" },
      ticks: {
        stepSize: step,
        color: "#000",
        font: { family: FONT, size: 27, weight: "bold" as const },
        padding: pad,
        maxRotation: 0,
        autoSkip: false,
        callback: (v: any) => (Number(v) === 0 ? "0" : Number(v).toFixed(fixed)),
      },
    });
    const chart = new Chart(ref.current as HTMLCanvasElement, {
      type: "scatter",
      data: {
        datasets: [
          {
            type: "line",
            data: panel.fit.map(toXY),
            borderColor: "#000",
            borderWidth: 6,
            borderCapStyle: "round",
            pointRadius: 0,
            clip: false,
            order: 0,
          } as any,
          {
            type: "scatter",
            data: panel.points.map(toXY),
            backgroundColor: panel.color,
            borderWidth: 0,
            pointStyle: panel.square ? "rect" : "circle",
            pointRadius: panel.square ? 8.5 : 5.3,
            clip: false,
            order: 1,
          } as any,
        ],
      },
      options: {
        responsive: false,
        animation: false,
        layout: { padding: { top: t - by, right: bw - (r - bx), left: 0, bottom: 0 } },
        plugins: { legend: { display: false }, tooltip: { enabled: false }, title: { display: false } },
        scales: {
          x: { ...axis(panel.xMax, panel.xStep, panel.xFixed, 11), afterFit: (s: any) => { s.height = bh - (b - by); } },
          y: { ...axis(panel.yMax, panel.yStep, 0, 17), afterFit: (s: any) => { s.width = l - bx; } },
        },
      } as any,
      plugins: [textPlugin],
    });
    return () => chart.destroy();
  }, [panel]);
  const [bx, by, bw, bh] = panel.box;
  return <canvas ref={ref} width={bw} height={bh} style={{ position: "absolute", left: bx, top: by, width: bw, height: bh }} />;
}

export default function App() {
  return (
    <div style={{ position: "absolute", left: 0, top: 0, width: 1341, height: 1075, background: "#fff", overflow: "hidden" }}>
      {panels.map((p, i) => <PanelChart key={i} panel={p} />)}
    </div>
  );
}
